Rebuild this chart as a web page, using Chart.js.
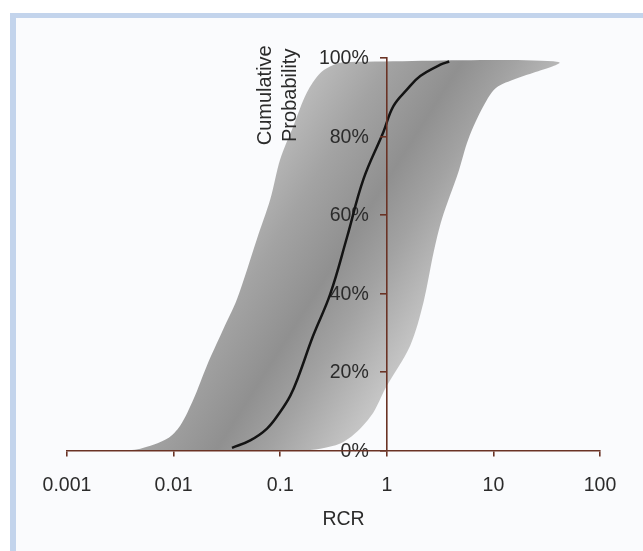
<!DOCTYPE html>
<html>
<head>
<meta charset="utf-8">
<script src="https://cdn.jsdelivr.net/npm/chart.js@4.4.1/dist/chart.umd.min.js"></script>
<style>
  html, body { margin: 0; padding: 0; background: #ffffff; }
  #frame {
    position: absolute; left: 10px; top: 13px; right: 0; bottom: 0;
    border-top: 5px solid #c3d4ec; border-left: 6px solid #c3d4ec;
    background: #fafbfd;
  }
  #chart1 { position: absolute; left: 0; top: 0; }
</style>
</head>
<body>
<div id="frame"></div>
<canvas id="chart1" width="643" height="551"></canvas>
<script>
// axis ticks / labels
let xTicks = [0.001, 0.01, 0.1, 1, 10, 100];
let xTickLabels = ["0.001", "0.01", "0.1", "1", "10", "100"];
let yTicks = [0, 20, 40, 60, 80, 100];
let yTickLabels = ["0%", "20%", "40%", "60%", "80%", "100%"];
let yTitleLines = ["Cumulative", "Probability"];
let xTitle = "RCR";

// grey band: left envelope (bottom -> top), right envelope (top -> bottom)
let bandLeftRcr = [0.00294, 0.00488, 0.00867, 0.01156, 0.01543, 0.02056, 0.02844, 0.03936, 0.0605, 0.0807, 0.1, 0.133, 0.178, 0.238, 0.341, 0.454];
let bandLeftCum = [0, 0.5, 3.0, 6.4, 13.2, 21.7, 30.2, 38.6, 53.9, 64.0, 74.2, 82.7, 91.2, 96.2, 98.6, 99];
let bandRightRcr = [40.6, 11.1, 8.05, 5.82, 4.69, 3.29, 2.75, 2.21, 1.66, 0.968, 0.751, 0.525, 0.366, 0.238, 0.155];
let bandRightCum = [99, 92.8, 87.7, 79.3, 70.9, 59.0, 50.5, 37.8, 26.8, 15.8, 9.8, 4.8, 1.8, 0.5, 0];

// black curve
let medianRcr = [0.0353, 0.0524, 0.0752, 0.1002, 0.1245, 0.148, 0.204, 0.295, 0.424, 0.603, 0.927, 1.15, 1.55, 2.06, 3.18, 3.85];
let medianCum = [0.7, 2.6, 5.6, 9.9, 14.0, 18.8, 29.3, 39.9, 54.4, 69.1, 81.1, 87.7, 92.0, 95.4, 98.3, 99.1];

let axisColor = "#6a3325";
let textColor = "#2b2b2b";
let fontFamily = "'Liberation Sans', Arial, Helvetica, sans-serif";

let bandPoints = bandLeftRcr.map((v, i) => ({ x: v, y: bandLeftCum[i] }))
  .concat(bandRightRcr.map((v, i) => ({ x: v, y: bandRightCum[i] })));
let medianPoints = medianRcr.map((v, i) => ({ x: v, y: medianCum[i] }));

function bandGradient(c) {
  let chart = c.chart;
  let a = chart.chartArea;
  if (!a) return "#a8a8a8";
  let g = chart.ctx.createLinearGradient(
    a.left + a.width * 0.325, a.top + a.height * 0.182,
    a.left + a.width * 0.753, a.top + a.height * 0.55
  );
  g.addColorStop(0, "#c8c8c8");
  g.addColorStop(0.33, "#a3a3a3");
  g.addColorStop(0.56, "#909090");
  g.addColorStop(0.72, "#a2a2a2");
  g.addColorStop(0.96, "#c4c4c4");
  g.addColorStop(1, "#c8c8c8");
  return g;
}

// y tick labels sit left of the axis, under the black curve
let textPlugin = {
  id: "axisText",
  beforeDatasetDraw(chart, args) {
    if (args.index !== 0) return;
    let ctx = chart.ctx;
    let axisX = chart.scales.x.getPixelForValue(1);
    ctx.save();
    ctx.fillStyle = textColor;
    ctx.font = "19.5px " + fontFamily;
    ctx.textAlign = "right";
    ctx.textBaseline = "middle";
    yTicks.forEach((v, i) => {
      ctx.fillText(yTickLabels[i], axisX - 18, chart.scales.y.getPixelForValue(v) + 1);
    });
    ctx.restore();
  },
  afterDraw(chart) {
    let ctx = chart.ctx;
    let xs = chart.scales.x;
    let axisX = xs.getPixelForValue(1);
    let midY = chart.scales.y.getPixelForValue(90.5);
    ctx.save();
    ctx.fillStyle = textColor;
    ctx.font = "20px " + fontFamily;
    ctx.textAlign = "center";
    ctx.textBaseline = "alphabetic";
    yTitleLines.forEach((t, i) => {
      ctx.save();
      ctx.translate(axisX - 116 + i * 25, midY);
      ctx.rotate(-Math.PI / 2);
      ctx.fillText(t, 0, 0);
      ctx.restore();
    });
    ctx.font = "19.5px " + fontFamily;
    ctx.fillText(xTitle, (xs.left + xs.right) / 2 + 10, xs.top + 74.5);
    ctx.restore();
  },
};

let chart1 = document.getElementById("chart1");
let config1 = {
  type: "line",
  data: {
    datasets: [
      {
        label: "median",
        data: medianPoints,
        borderColor: "#141414",
        borderWidth: 2.5,
        pointRadius: 0,
        fill: false,
        tension: 0.4,
      },
      {
        label: "band",
        data: bandPoints,
        borderWidth: 0,
        borderColor: "rgba(0,0,0,0)",
        backgroundColor: bandGradient,
        pointRadius: 0,
        fill: "shape",
        tension: 0.3,
      },
    ],
  },
  options: {
    responsive: false,
    animation: false,
    layout: {
      padding: { left: 67, right: 43, top: 58, bottom: 36 },
    },
    scales: {
      x: {
        type: "logarithmic",
        min: 0.001,
        max: 100,
        afterBuildTicks: (s) => {
          s.ticks = xTicks.map((v) => ({ value: v }));
        },
        ticks: {
          autoSkip: false,
          maxRotation: 0,
          padding: 17.5,
          color: textColor,
          font: { family: fontFamily, size: 19.5 },
          callback: (v) => xTickLabels[xTicks.indexOf(v)],
          z: 1,
        },
        grid: {
          drawOnChartArea: false,
          drawTicks: true,
          tickLength: 6,
          color: axisColor,
          lineWidth: 1.6,
          z: 1,
        },
        border: { color: axisColor, width: 1.6, z: 1 },
      },
      y: {
        type: "linear",
        min: 0,
        max: 100,
        position: { x: 1 },
        afterBuildTicks: (s) => {
          s.ticks = yTicks.map((v) => ({ value: v }));
        },
        ticks: { display: false },
        grid: {
          drawOnChartArea: false,
          drawTicks: true,
          tickLength: 6,
          color: axisColor,
          lineWidth: 1.6,
          z: 1,
        },
        border: { color: axisColor, width: 1.6, z: 1 },
      },
    },
    plugins: {
      legend: { display: false },
      tooltip: { enabled: false },
    },
  },
  plugins: [textPlugin],
};

let lineChart = new Chart(chart1, config1);
</script>
</body>
</html>
